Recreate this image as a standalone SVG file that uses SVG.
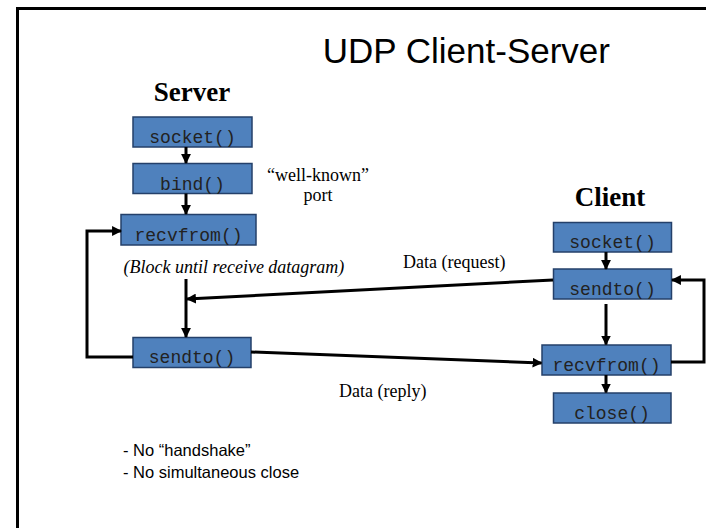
<svg xmlns="http://www.w3.org/2000/svg" width="706" height="528" viewBox="0 0 706 528">
<style>
.box{fill:#4F81BD;stroke:#24406A;stroke-width:1.5}
.fn{font-family:"Liberation Mono","Courier New",monospace;font-size:18px;fill:#222;text-anchor:middle}
.lbl{font-family:"Liberation Serif","Times New Roman",serif;font-weight:bold;font-size:27px;fill:#000;text-anchor:middle}
.note{font-family:"Liberation Serif","Times New Roman",serif;font-size:18px;fill:#000}
.conn{fill:none;stroke:#000;stroke-width:3}
.bul{font-family:"Liberation Sans",Arial,sans-serif;font-size:16.5px;fill:#000}
</style>
<defs>
<marker id="ah" viewBox="0 0 10 10" refX="9" refY="5" markerWidth="3.3" markerHeight="3.3" orient="auto" markerUnits="strokeWidth">
<path d="M0,0 L10,5 L0,10 z" fill="#000"/>
</marker>
</defs>
<rect x="0" y="0" width="706" height="528" fill="#fff"/>
<path d="M17.5,528 V8.5 H706" fill="none" stroke="#000" stroke-width="3"/>
<text x="610" y="63" font-family="'Liberation Sans',Arial,sans-serif" font-size="35" text-anchor="end" fill="#000">UDP Client-Server</text>

<g id="server-label"><text class="lbl" x="192" y="101">Server</text></g>
<g id="client-label"><text class="lbl" x="610" y="206">Client</text></g>

<g id="s-socket"><rect class="box" x="133" y="117" width="119" height="30"/><text class="fn" x="192.5" y="143">socket()</text></g>
<g id="s-bind"><rect class="box" x="133" y="163.5" width="119" height="30"/><text class="fn" x="192.5" y="189.5">bind()</text></g>
<g id="s-recvfrom"><rect class="box" x="121" y="214.5" width="135" height="30.5"/><text class="fn" x="188.5" y="241">recvfrom()</text></g>
<g id="s-sendto"><rect class="box" x="133" y="337.5" width="118" height="30"/><text class="fn" x="192" y="363">sendto()</text></g>

<g id="c-socket"><rect class="box" x="553.5" y="222.5" width="118" height="29.5"/><text class="fn" x="612.5" y="248">socket()</text></g>
<g id="c-sendto"><rect class="box" x="553.5" y="269" width="118" height="30"/><text class="fn" x="612.5" y="295">sendto()</text></g>
<g id="c-recvfrom"><rect class="box" x="542" y="345" width="129" height="30"/><text class="fn" x="606.5" y="371">recvfrom()</text></g>
<g id="c-close"><rect class="box" x="553.5" y="393" width="117.5" height="30"/><text class="fn" x="612" y="419">close()</text></g>

<g id="notes">
<text class="note" x="318" y="181" font-size="15" text-anchor="middle">“well-known”</text>
<text class="note" x="318" y="201" font-size="15" text-anchor="middle">port</text>
<text class="note" x="234" y="273" font-style="italic" text-anchor="middle">(Block until receive datagram)</text>
<text class="note" x="403" y="268">Data (request)</text>
<text class="note" x="339" y="397">Data (reply)</text>
</g>

<g id="connectors">
<line class="conn" x1="186" y1="147" x2="186" y2="163" marker-end="url(#ah)"/>
<line class="conn" x1="186" y1="193.5" x2="186" y2="214" marker-end="url(#ah)"/>
<line class="conn" x1="186" y1="279" x2="186" y2="337" marker-end="url(#ah)"/>
<polyline class="conn" points="133,357 87,357 87,231 121,231" marker-end="url(#ah)"/>
<line class="conn" x1="553" y1="280" x2="187" y2="299" marker-end="url(#ah)"/>
<line class="conn" x1="251" y1="352" x2="541.5" y2="363" marker-end="url(#ah)"/>
<line class="conn" x1="606" y1="252" x2="606" y2="269" marker-end="url(#ah)"/>
<line class="conn" x1="606" y1="304" x2="606" y2="344.5" marker-end="url(#ah)"/>
<line class="conn" x1="606" y1="375" x2="606" y2="392.5" marker-end="url(#ah)"/>
<polyline class="conn" points="671,362 704,362 704,280 672,280" marker-end="url(#ah)"/>
</g>

<g id="bullets">
<text class="bul" x="123" y="456">- No “handshake”</text>
<text class="bul" x="123" y="478">- No simultaneous close</text>
</g>
</svg>
